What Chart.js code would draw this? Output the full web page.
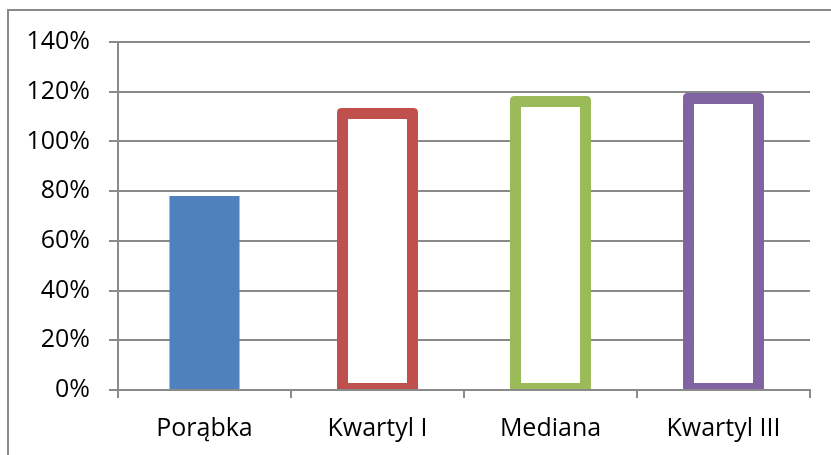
<!DOCTYPE html>
<html>
<head>
<meta charset="utf-8">
<script src="https://cdn.jsdelivr.net/npm/chart.js@4"></script>
<style>
    body { margin: 0; background: #fff; }
    #wrap { position: relative; width: 831px; height: 455px; overflow: hidden; }
    #frame { position: absolute; left: 7px; top: 9px; width: 900px; height: 500px; border: 2px solid #8a8a8a; }
    #chart { position: absolute; left: 0; top: 0; }
</style>
</head>
<body>
<div id="wrap">
    <div id="frame"></div>
    <canvas id="chart" width="831" height="455"></canvas>
</div>
<script>
// Categories and values (bar heights, in %)
const categories = ["Porąbka", "Kwartyl I", "Mediana", "Kwartyl III"];
const porabkaValues = [78, null, null, null];
const quartileValues = [null, 113.4, 118.3, 119.5];
const quartileColors = ['#c0504d', '#c0504d', '#9bbb59', '#8064a2'];
const yTicks = [0, 20, 40, 60, 80, 100, 120, 140];

const gridGray = '#8a8a8a';
const labelFont = { family: "'Open Sans', sans-serif", size: 25 };

// Run after DOM is loaded
document.addEventListener("DOMContentLoaded", function () {
    drawChart();
});

function drawChart() {
    const ctx = document.getElementById('chart').getContext('2d');

    new Chart(ctx, {
        type: 'bar',
        data: {
            labels: categories,
            datasets: [
                {
                    label: 'Porąbka',
                    data: porabkaValues,
                    backgroundColor: '#4f81bd',
                    borderWidth: 0,
                    barPercentage: 0.405,
                    categoryPercentage: 1,
                    grouped: false
                },
                {
                    label: 'Kwartyle',
                    data: quartileValues,
                    backgroundColor: '#ffffff',
                    borderColor: quartileColors,
                    borderWidth: { top: 11, left: 11, right: 11, bottom: 6 },
                    borderSkipped: false,
                    borderRadius: { topLeft: 4, topRight: 4, bottomLeft: 0, bottomRight: 0 },
                    barPercentage: 0.468,
                    categoryPercentage: 1,
                    grouped: false
                }
            ]
        },
        options: {
            responsive: false,
            animation: false,
            layout: { padding: { top: 42, right: 21, left: 0, bottom: 0 } },
            plugins: {
                legend: { display: false },
                tooltip: { enabled: false }
            },
            scales: {
                x: {
                    offset: true,
                    grid: {
                        offset: true,
                        drawOnChartArea: false,
                        color: gridGray,
                        lineWidth: 2,
                        tickLength: 8
                    },
                    border: { color: gridGray, width: 2 },
                    ticks: { color: '#000', font: labelFont, padding: 16, maxRotation: 0 },
                    afterFit: function (scale) { scale.height = 65; }
                },
                y: {
                    min: 0,
                    max: 140,
                    afterBuildTicks: function (scale) {
                        scale.ticks = yTicks.map(v => ({ value: v }));
                    },
                    grid: {
                        color: gridGray,
                        lineWidth: 2,
                        tickLength: 9
                    },
                    border: { color: gridGray, width: 2 },
                    ticks: {
                        color: '#000',
                        font: labelFont,
                        padding: 19,
                        callback: v => v + '%'
                    },
                    afterFit: function (scale) { scale.width = 118; }
                }
            }
        }
    });
}
</script>
</body>
</html>
